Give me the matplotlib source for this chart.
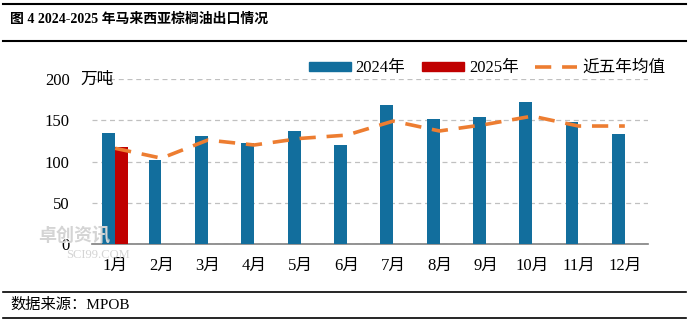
import matplotlib
matplotlib.use("Agg")
import matplotlib.pyplot as plt
import numpy as np
from matplotlib.lines import Line2D
from matplotlib.patches import Patch

months = ["1月", "2月", "3月", "4月", "5月", "6月", "7月", "8月", "9月", "10月", "11月", "12月"]
y2024 = [135, 102, 131, 122, 137, 120, 168, 151, 154, 172, 148, 133]
y2025 = [117]
avg5 = [116, 104, 126, 120, 128, 132, 149, 137, 145, 155, 143, 143]
yticks = [0, 50, 100, 150, 200]

FAM = ['Liberation Serif', 'Noto Sans CJK SC', 'DejaVu Sans']
plt.rcParams['font.family'] = FAM

BLUE = '#126E9D'
RED = '#C00000'
ORANGE = '#ED7D31'

fig = plt.figure(figsize=(6.89, 3.25), dpi=100)
ax = fig.add_axes([92/689, 1-244/325, (648-92)/689, (244-79)/325])

x = np.arange(len(months))
w = 0.28
ax.bar(x - w/2, y2024, width=w, color=BLUE, zorder=3)
ax.bar(x[:len(y2025)] + w/2, y2025, width=w, color=RED, zorder=3)
ax.plot(x, avg5, color=ORANGE, lw=2.6, dashes=(4.5, 3), zorder=4)

ax.set_xlim(-0.5, len(months) - 0.5)
ax.set_ylim(0, 200)
ax.set_yticks(yticks)
ax.set_yticklabels([str(v) for v in yticks], fontsize=12)
ax.set_xticks(x)
ax.set_xticklabels(months, fontsize=12)
ax.tick_params(axis='x', length=0, pad=10, colors='#000000')
ax.tick_params(axis='y', length=0, pad=16, colors='#000000')
for s in ['top', 'right', 'left']:
    ax.spines[s].set_visible(False)
ax.spines['bottom'].set_color('#808080')
ax.spines['bottom'].set_linewidth(1.2)
ax.grid(axis='y', color='#C0C0C0', linestyle=(0, (4, 3)), lw=0.9, zorder=0)
ax.set_axisbelow(True)

fig.text(80/689, 1-80/325, "万吨", fontsize=12, ha='left', va='center', family=FAM)

handles = [Patch(color=BLUE), Patch(color=RED),
           Line2D([0], [0], color=ORANGE, lw=2.6, dashes=(4.5, 3))]
leg = fig.legend(handles, ["2024年", "2025年", "近五年均值"], loc='center',
                 bbox_to_anchor=(487/689, 1-68/325), ncol=3, frameon=False,
                 fontsize=12, handlelength=2.5, handleheight=0.45,
                 columnspacing=1.0, handletextpad=0.3, borderpad=0, borderaxespad=0)

# watermark
fig.text(38/689, 1-236/325, "卓创资讯", fontsize=13, color='#D4D4D4', ha='left', va='center', zorder=0, fontweight='bold')
fig.text(66/689, 1-255/325, "SCI99.COM", fontsize=9, color='#D4D4D4', ha='left', va='center', zorder=0)

# title and rules
fig.text(10/689, 1-19/325, "图 4 2024-2025 年马来西亚棕榈油出口情况", fontsize=10,
         fontweight='bold', ha='left', va='center', family=FAM)
for yy, lw in [(4, 1.5), (40.5, 1.5), (292, 1.2), (318, 1.2)]:
    fig.add_artist(Line2D([3/689, 686/689], [1-yy/325, 1-yy/325], color='black', lw=lw))
fig.text(10/689, 1-305/325, "数据来源：MPOB", fontsize=11, ha='left', va='center', family=FAM)

fig.savefig("out.png", dpi=100, facecolor='white')
